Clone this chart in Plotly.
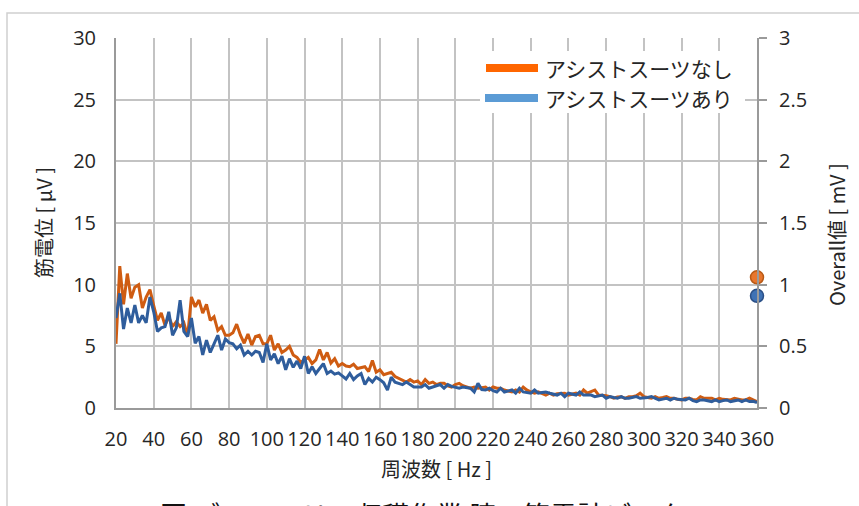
import plotly.graph_objects as go

# ---- data ----
freq_start = 20
freq_step = 2

emg_without_suit = [
    5.2, 11.5, 8.4, 10.9, 8.9, 9.8, 10.0, 8.1, 9.0, 9.6,
    8.3, 7.1, 7.7, 6.7, 7.4, 6.6, 7.0, 6.6, 6.9, 5.8,
    9.0, 8.2, 8.75, 7.7, 8.4, 7.1, 7.4, 6.3, 6.6, 5.9,
    5.9, 6.1, 6.8, 5.9, 5.25, 6.0, 5.1, 5.8, 5.9, 5.2,
    5.2, 5.9, 4.7, 5.2, 4.5, 4.7, 5.0, 4.3, 4.1, 3.7,
    3.9, 4.1, 3.6, 3.9, 4.75, 3.9, 4.5, 3.65, 4.0, 3.4,
    3.6, 3.4, 3.35, 3.55, 3.2, 3.3, 3.35, 2.95, 3.85, 2.9,
    3.1, 2.7, 2.8, 2.9, 2.55, 2.4, 2.3, 2.1, 2.3, 2.1,
    2.2, 1.9, 2.3, 2.0, 2.1, 1.9, 2.0, 2.0, 1.8, 1.7,
    1.9, 2.0, 1.8, 1.7, 1.6, 1.7, 1.6, 1.65, 1.7, 1.46,
    1.7, 1.6, 1.6, 1.46, 1.35, 1.3, 1.46, 1.3, 1.7, 1.45,
    1.3, 1.2, 1.3, 1.15, 1.05, 1.2, 1.05, 1.15, 1.2, 1.2,
    1.05, 1.15, 1.2, 1.05, 1.46, 1.2, 1.3, 1.46, 1.05, 1.05,
    1.0, 0.92, 0.8, 0.9, 0.92, 0.79, 0.92, 0.92, 1.0, 1.2,
    0.92, 0.85, 0.79, 0.92, 0.79, 0.85, 0.92, 0.79, 0.79, 0.7,
    0.65, 0.79, 0.79, 0.7, 0.65, 0.92, 0.79, 0.79, 0.79, 0.65,
    0.79, 0.7, 0.65, 0.65, 0.79, 0.7, 0.65, 0.65, 0.79, 0.65,
    0.52,
]

emg_with_suit = [
    7.3, 9.3, 6.4, 8.1, 6.9, 8.35, 6.9, 7.5, 6.9, 9.0,
    7.8, 6.2, 6.5, 6.6, 7.8, 5.9, 6.5, 8.75, 6.2, 5.8,
    7.3, 5.25, 5.8, 4.3, 5.5, 4.5, 5.2, 5.9, 4.7, 5.6,
    5.3, 5.2, 4.8, 5.1, 4.3, 4.6, 4.3, 4.6, 4.5, 3.7,
    5.2, 3.9, 4.4, 3.6, 4.2, 3.1, 4.0, 3.3, 3.8, 3.2,
    4.2, 2.8, 3.35, 2.8, 3.2, 3.6, 2.8, 3.0, 2.75, 2.85,
    2.6, 2.35, 2.8, 2.3, 2.6, 2.8, 1.9, 2.4, 2.1, 2.5,
    2.3, 2.05, 1.45, 2.5, 2.1, 2.0, 1.9, 2.1, 1.9, 1.7,
    1.7, 1.7, 1.9, 1.6, 1.7, 1.8, 1.9, 1.6, 1.9, 1.75,
    1.7, 1.6, 1.7, 1.65, 1.6, 1.3, 2.0, 1.5, 1.46, 1.6,
    1.4, 1.3, 1.6, 1.3, 1.4, 1.46, 1.2, 1.6, 1.3, 1.25,
    1.2, 1.46, 1.2, 1.25, 1.3, 1.2, 1.1, 1.05, 1.2, 0.92,
    1.2, 1.1, 1.05, 1.3, 1.05, 1.05, 1.05, 0.92, 1.0, 1.05,
    0.79, 0.92, 0.85, 0.79, 0.92, 0.79, 0.79, 0.85, 0.92, 0.79,
    0.79, 0.85, 0.92, 0.79, 0.65, 0.72, 0.79, 0.65, 0.79, 0.7,
    0.65, 0.65, 0.79, 0.6, 0.52, 0.65, 0.65, 0.6, 0.52, 0.65,
    0.52, 0.6, 0.65, 0.52, 0.6, 0.65, 0.52, 0.65, 0.52, 0.55,
    0.45,
]

freqs = [freq_start + freq_step * i for i in range(len(emg_without_suit))]

overall_x = [360]
overall_without_suit = [1.06]
overall_with_suit = [0.91]

series_names = ["アシストスーツなし", "アシストスーツあり"]
x_ticks = list(range(20, 361, 20))
y_ticks = [0, 5, 10, 15, 20, 25, 30]
y2_ticks = [0, 0.5, 1, 1.5, 2, 2.5, 3]
y2_ticktext = ["0", "0.5", "1", "1.5", "2", "2.5", "3"]

# ---- layout geometry (pixels) ----
W, H = 859, 506
L, R, T, B = 116, 757, 38, 408
PW, PH = R - L, B - T


def px(xp):
    return (xp - L) / PW


def py(yp):
    return (B - yp) / PH


FONT = "Open Sans, Noto Sans CJK JP, sans-serif"
JFONT = "Noto Sans CJK JP, Open Sans, sans-serif"
TXT = "#262626"
GRID = "#c3c3c3"
AXIS = "#9a9a9a"

ORANGE_LINE = "#cf5c12"
BLUE_LINE = "#2f5d9c"
ORANGE_LEG = "#ff6600"
BLUE_LEG = "#5b9bd5"

fig = go.Figure()
fig.add_trace(go.Scatter(x=freqs, y=emg_without_suit, mode="lines",
                         line=dict(color=ORANGE_LINE, width=3),
                         name=series_names[0], showlegend=False))
fig.add_trace(go.Scatter(x=freqs, y=emg_with_suit, mode="lines",
                         line=dict(color=BLUE_LINE, width=3),
                         name=series_names[1], showlegend=False))
fig.add_trace(go.Scatter(x=overall_x, y=overall_without_suit, yaxis="y2",
                         mode="markers", cliponaxis=False, showlegend=False,
                         marker=dict(size=13, color="#e8762d",
                                     line=dict(color="#b85a16", width=1.5))))
fig.add_trace(go.Scatter(x=overall_x, y=overall_with_suit, yaxis="y2",
                         mode="markers", cliponaxis=False, showlegend=False,
                         marker=dict(size=13, color="#3f72b5",
                                     line=dict(color="#2a4f86", width=1.5))))

shapes = []
# outer chart frame (extends past the picture on the right and bottom)
shapes.append(dict(type="rect", xref="paper", yref="paper",
                   x0=px(7), x1=px(880), y0=py(540), y1=py(13),
                   line=dict(color="#d0d0d0", width=1.5), layer="below"))
# legend background box
shapes.append(dict(type="rect", xref="paper", yref="paper",
                   x0=px(480), x1=px(745), y0=py(113), y1=py(51),
                   fillcolor="white", line=dict(width=0), layer="above"))
# legend samples
shapes.append(dict(type="line", xref="paper", yref="paper",
                   x0=px(486), x1=px(538), y0=py(68), y1=py(68),
                   line=dict(color=ORANGE_LEG, width=8), layer="above"))
shapes.append(dict(type="line", xref="paper", yref="paper",
                   x0=px(485), x1=px(538), y0=py(98), y1=py(98),
                   line=dict(color=BLUE_LEG, width=8), layer="above"))

annotations = [
    dict(text=series_names[0], xref="paper", yref="paper", x=px(543), y=py(68),
         xanchor="left", yanchor="middle", showarrow=False,
         font=dict(family=JFONT, size=21, color=TXT)),
    dict(text=series_names[1], xref="paper", yref="paper", x=px(543), y=py(98),
         xanchor="left", yanchor="middle", showarrow=False,
         font=dict(family=JFONT, size=21, color=TXT)),
    dict(text="筋電位 [ μV ]", xref="paper", yref="paper", x=px(43), y=py(223),
         xanchor="center", yanchor="middle", textangle=-90, showarrow=False,
         font=dict(family=JFONT, size=20, color=TXT)),
    dict(text="Overall値 [ mV ]", xref="paper", yref="paper", x=px(836), y=py(235),
         xanchor="center", yanchor="middle", textangle=-90, showarrow=False,
         font=dict(family=JFONT, size=20, color=TXT)),
    dict(text="周波数 [ Hz ]", xref="paper", yref="paper", x=px(436), y=py(468),
         xanchor="center", yanchor="middle", showarrow=False,
         font=dict(family=JFONT, size=20, color=TXT)),
    dict(text="図 ブロッコリー収穫作業 腕の筋電計データ", xref="paper", yref="paper",
         x=px(422), y=py(493), xanchor="center", yanchor="top", showarrow=False,
         font=dict(family=JFONT, size=27, color="#111")),
]

fig.update_layout(
    width=W, height=H,
    margin=dict(l=L, r=W - R, t=T, b=H - B),
    paper_bgcolor="white", plot_bgcolor="white",
    font=dict(family=FONT, size=20, color=TXT),
    showlegend=False,
    xaxis=dict(range=[20, 360], tickvals=x_ticks, ticktext=[str(v) for v in x_ticks],
               showgrid=True, gridcolor=GRID, gridwidth=2,
               showline=True, linecolor=AXIS, linewidth=2,
               ticks="", ticklabelstandoff=12, zeroline=False,
               tickfont=dict(family=FONT, size=20, color=TXT)),
    yaxis=dict(range=[0, 30], tickvals=y_ticks,
               showgrid=True, gridcolor=GRID, gridwidth=2,
               showline=True, linecolor=AXIS, linewidth=2,
               ticks="", ticklabelstandoff=14, zeroline=False,
               tickfont=dict(family=FONT, size=20, color=TXT)),
    yaxis2=dict(range=[0, 3], tickvals=y2_ticks, ticktext=y2_ticktext,
                overlaying="y", side="right", anchor="x",
                showgrid=False, zeroline=False,
                showline=True, linecolor=AXIS, linewidth=2,
                ticks="outside", ticklen=8, tickcolor=AXIS, tickwidth=1.5,
                ticklabelstandoff=8,
                tickfont=dict(family=FONT, size=20, color=TXT)),
    shapes=shapes,
    annotations=annotations,
)

fig.write_html(
    "out.html",
    config={"displayModeBar": False},
    post_script="document.body.style.margin='0px';document.body.style.padding='0px';",
)
